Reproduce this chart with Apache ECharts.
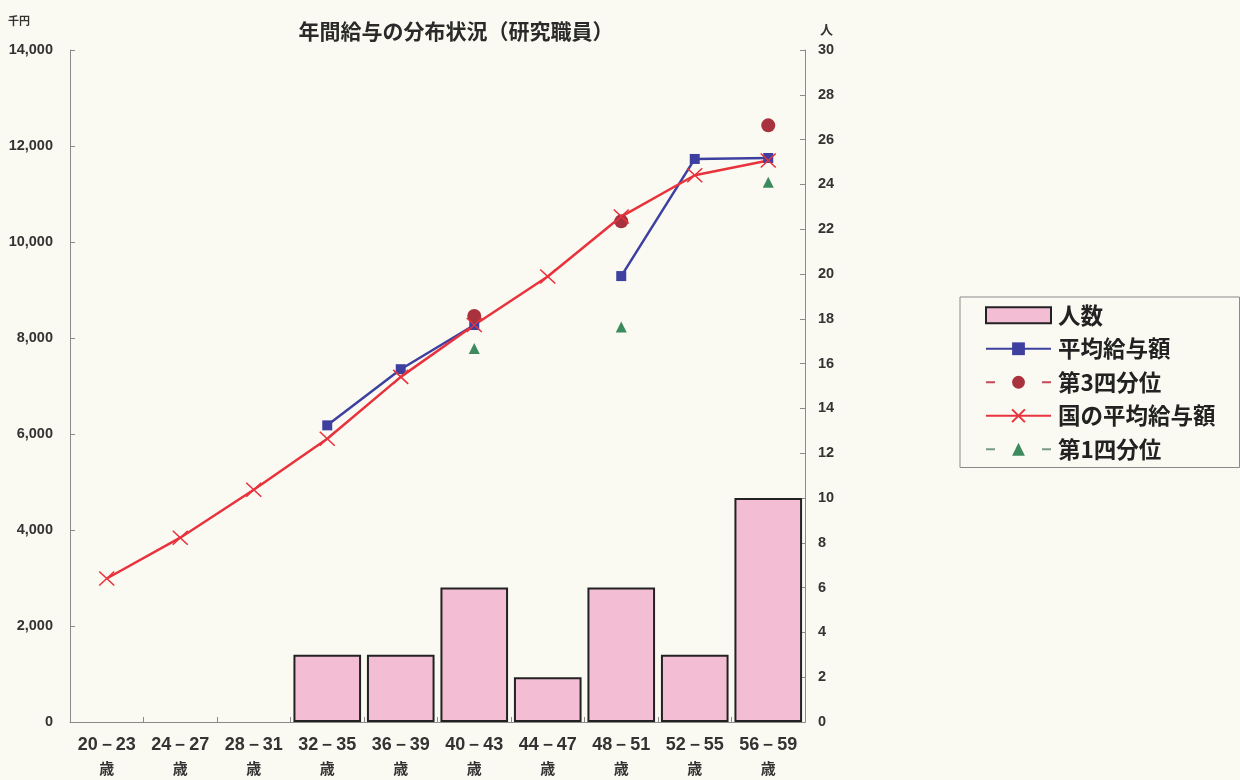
<!DOCTYPE html>
<html>
<head>
<meta charset="utf-8">
<script src="https://cdn.jsdelivr.net/npm/echarts@6/dist/echarts.min.js"></script>
<style>
  html, body { margin: 0; padding: 0; background: #fbfaf2; }
  #chart { width: 1240px; height: 780px; }
</style>
</head>
<body>
<div id="chart"></div>
<script>
// Age bands (years) shown along the bottom
const ageBands = ['20－23', '24－27', '28－31', '32－35', '36－39', '40－43', '44－47', '48－51', '52－55', '56－59'];

// Head count per age band (right axis, persons)
const headCount = [null, null, null, 3, 3, 6, 2, 6, 3, 10];

// Average annual pay of research staff (thousand yen)
const avgPay = [null, null, null, 6180, 7350, 8270, null, 9290, 11730, 11750];

// Third quartile (thousand yen)
const q3Pay = [null, null, null, null, null, 8460, null, 10430, null, 12430];

// National average annual pay (thousand yen)
const nationalAvgPay = [2990, 3840, 4840, 5900, 7190, 8270, 9280, 10530, 11390, 11700];

// First quartile (thousand yen)
const q1Pay = [null, null, null, null, null, 7780, null, 8230, null, 11245];

const leftTicks = { min: 0, max: 14000, interval: 2000 };
const rightTicks = { min: 0, max: 30, interval: 2 };

const jpFont = '"Noto Sans CJK JP", "Noto Sans", sans-serif';
const numFont = '"Liberation Sans", Arial, sans-serif';
const axisGray = '#8a8a8a';

const chart = echarts.init(document.getElementById('chart'), null, { renderer: 'canvas' });

chart.setOption({
  backgroundColor: '#fbfaf2',
  animation: false,
  title: {
    text: '年間給与の分布状況（研究職員）',
    left: 451,
    textAlign: 'center',
    top: 16,
    textStyle: { fontFamily: jpFont, fontSize: 21, fontWeight: 'bold', color: '#2a2a2a' }
  },
  grid: { left: 70, right: 435, top: 50, bottom: 54, containLabel: false },
  legend: {
    orient: 'vertical',
    left: 960,
    top: 297,
    padding: [7, 24, 7, 25],
    itemGap: 11,
    itemWidth: 65,
    itemHeight: 16,
    borderColor: '#8a8a8a',
    borderWidth: 1,
    backgroundColor: '#fbfaf2',
    textStyle: { fontFamily: jpFont, fontSize: 22.5, fontWeight: 'bold', color: '#222', lineHeight: 22, padding: [0, 0, 0, 2] },
    data: [
      { name: '人数', icon: 'rect', itemStyle: { color: '#f3bdd4', borderColor: '#222', borderWidth: 2 } },
      { name: '平均給与額' },
      { name: '第3四分位' },
      { name: '国の平均給与額' },
      { name: '第1四分位' }
    ]
  },
  xAxis: {
    type: 'category',
    data: ageBands,
    boundaryGap: true,
    axisLine: { show: true, lineStyle: { color: axisGray, width: 1 } },
    axisTick: { show: true, inside: true, length: 5, alignWithLabel: false, lineStyle: { color: axisGray } },
    axisLabel: {
      interval: 0,
      margin: 12,
      fontFamily: numFont,
      fontSize: 18,
      fontWeight: 'bold',
      color: '#333',
      lineHeight: 23,
      formatter: v => v + '\n{y|歳}',
      rich: { y: { fontFamily: jpFont, fontSize: 15, fontWeight: 'bold', color: '#333', lineHeight: 23 } }
    },
    splitLine: { show: false }
  },
  yAxis: [
    {
      type: 'value',
      min: leftTicks.min, max: leftTicks.max, interval: leftTicks.interval,
      name: '千円',
      nameLocation: 'end',
      nameGap: 24,
      nameTextStyle: { fontFamily: jpFont, fontSize: 11, fontWeight: 'bold', color: '#333', align: 'right', padding: [0, 40, 0, 0] },
      axisLine: { show: true, lineStyle: { color: axisGray, width: 1 } },
      axisTick: { show: true, inside: true, length: 5, lineStyle: { color: axisGray } },
      axisLabel: { margin: 17, fontFamily: numFont, fontSize: 14.5, fontWeight: 'bold', color: '#333' },
      splitLine: { show: false }
    },
    {
      type: 'value',
      position: 'right',
      min: rightTicks.min, max: rightTicks.max, interval: rightTicks.interval,
      name: '人',
      nameLocation: 'end',
      nameGap: 14,
      nameTextStyle: { fontFamily: jpFont, fontSize: 13, fontWeight: 'bold', color: '#333', align: 'left', padding: [0, 0, 0, 15] },
      axisLine: { show: true, lineStyle: { color: axisGray, width: 1 } },
      axisTick: { show: true, inside: true, length: 5, lineStyle: { color: axisGray } },
      axisLabel: { margin: 13, fontFamily: numFont, fontSize: 14.5, fontWeight: 'bold', color: '#333' },
      splitLine: { show: false }
    }
  ],
  series: [
    {
      name: '人数',
      type: 'bar',
      yAxisIndex: 1,
      data: headCount,
      barCategoryGap: '8%',
      itemStyle: { color: '#f3bdd4', borderColor: '#222', borderWidth: 2 }
    },
    {
      name: '平均給与額',
      type: 'line',
      yAxisIndex: 0,
      data: avgPay,
      connectNulls: false,
      symbol: 'rect',
      symbolSize: 10,
      lineStyle: { color: '#3e40a0', width: 2.5 },
      itemStyle: { color: '#3e40a0' }
    },
    {
      name: '第3四分位',
      type: 'line',
      yAxisIndex: 0,
      data: q3Pay,
      connectNulls: false,
      symbol: 'circle',
      symbolSize: 14,
      lineStyle: { color: '#c04a5a', width: 3, type: [9, 47] },
      itemStyle: { color: '#a8323e' }
    },
    {
      name: '国の平均給与額',
      type: 'line',
      yAxisIndex: 0,
      data: nationalAvgPay,
      connectNulls: false,
      symbol: 'path://M0,0L10,10M10,0L0,10',
      symbolSize: [15, 14],
      lineStyle: { color: '#e8323c', width: 2.5 },
      itemStyle: { color: '#e8323c', borderColor: '#e8323c', borderWidth: 1.5 }
    },
    {
      name: '第1四分位',
      type: 'line',
      yAxisIndex: 0,
      data: q1Pay,
      connectNulls: false,
      symbol: 'triangle',
      symbolSize: 11,
      lineStyle: { color: '#7a9a88', width: 3, type: [9, 47] },
      itemStyle: { color: '#3d8a5e' }
    }
  ]
});
</script>
</body>
</html>
